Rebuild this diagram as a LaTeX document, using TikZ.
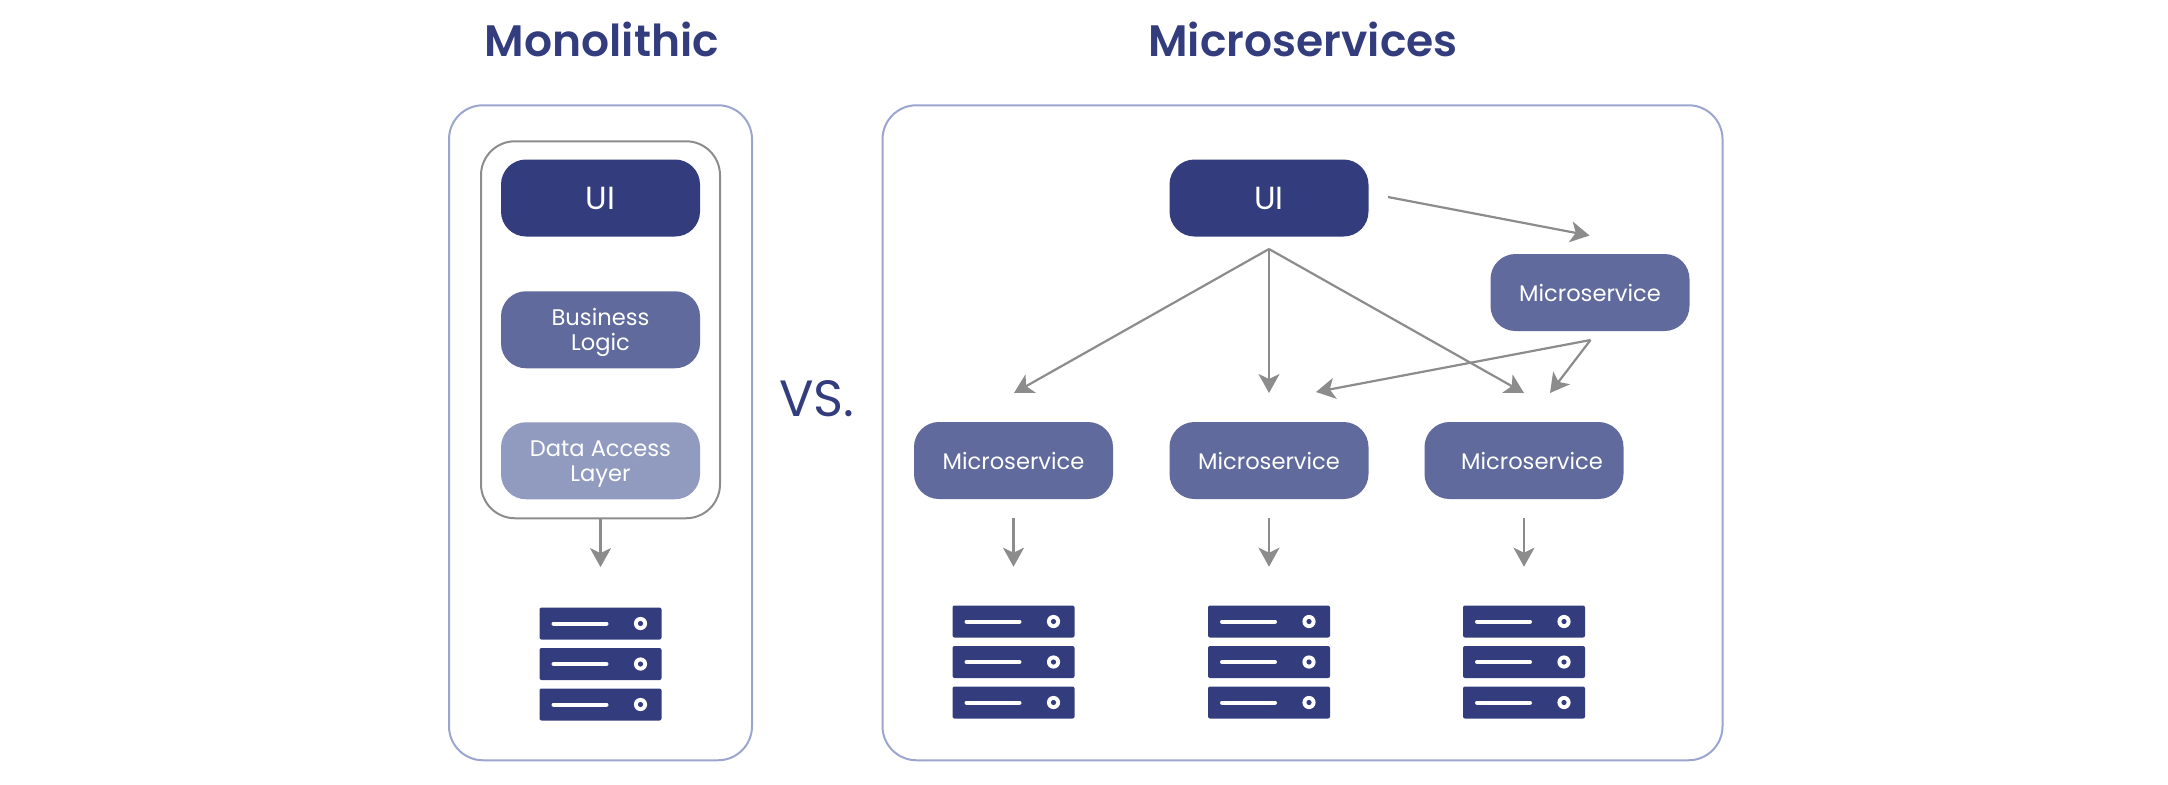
\documentclass[tikz,border=0pt]{standalone}
\usepackage{fontspec}
\setmainfont{Poppins}[BoldFont={Poppins SemiBold}]
\usetikzlibrary{arrows.meta}
\definecolor{navy}{HTML}{333D7E}
\definecolor{midblue}{HTML}{606A9C}
\definecolor{paleblue}{HTML}{919BC0}
\definecolor{edgeblue}{HTML}{9BA5CE}
\definecolor{arrowgrey}{HTML}{8C8C8C}
\tikzset{
  panel/.style={draw=edgeblue,line width=1pt,rounded corners=17pt,inner sep=0pt},
  layer/.style={rounded corners=12.5pt,minimum width=99.5pt,minimum height=38.5pt,inner sep=0pt,
    align=center,text=white,font=\fontsize{11.3}{12.5}\selectfont},
  uilayer/.style={layer,fill=navy,font=\fontsize{16}{18}\selectfont},
  flow/.style={arrowgrey,line width=1.1pt,-{Stealth[length=9.5pt,width=10.5pt,inset=2.5pt]}},
  rack/.style={fill=navy,rounded corners=1pt,minimum width=61pt,minimum height=16pt,inner sep=0pt},
  heading/.style={text=navy,font=\fontsize{22}{26}\selectfont\bfseries}
}
\begin{document}
\begin{tikzpicture}[x=0.5pt,y=-0.5pt]
  \useasboundingbox (0,0) rectangle (2168,784);
  \node[heading] (titleMono) at (602,39) {Monolithic};
  \node[heading] (titleMicro) at (1303,39) {Microservices};
  \node[text=navy,font=\fontsize{25.5}{30}\selectfont] (versus) at (817,399) {VS.};
  % outer frames
  \node[panel,minimum width=151.5pt,minimum height=327.5pt] (frameMono) at (600.5,432.75) {};
  \node[panel,minimum width=420pt,minimum height=327.5pt] (frameMicro) at (1302.5,432.75) {};
  \node[draw=arrowgrey,line width=1pt,rounded corners=17pt,minimum width=119.5pt,minimum height=188.5pt,inner sep=0pt] (stack) at (600.5,329.75) {};
  % monolith layers
  \node[uilayer] (uiMono) at (600.5,198) {UI};
  \foreach \colour/\pos/\name/\txt in
{{midblue/(600.5,329.75)/logic/Business\\Logic},{paleblue/(600.5,460.75)/data/Data Access\\Layer}}
    \node[layer,fill=\colour] (\name) at \pos {\rule{0pt}{11.5pt}\txt};
  % microservices
  \node[uilayer] (uiMicro) at (1269,198) {UI};
  \foreach \pos/\name in {{(1590,292.5)/msTop},{(1013.5,460.5)/msLeft},{(1269,460.5)/msMid}}
    \node[layer,fill=midblue] (\name) at \pos {Microservice};
  \node[layer,fill=midblue,text width=99.5pt] (msRight) at (1524,460.5) {\hspace*{8pt}Microservice};
  % server racks
  \foreach \x/\y/\name in {600.5/623.5/srvMono,1013.5/621.5/srvLeft,1269/621.5/srvMid,1524/621.5/srvRight}
    \foreach \i in {0,1,2} {
      \node[rack] (\name\i) at (\x,\y+40.5*\i) {};
      \draw[white,line width=2pt,line cap=round] (\x-47,\y+40.5*\i) -- (\x+6,\y+40.5*\i);
      \fill[white] (\x+40,\y+40.5*\i) circle[radius=3.3pt];
      \fill[navy] (\x+40,\y+40.5*\i) circle[radius=1.3pt];
    }
  % free ends of the arrows
  \coordinate (fanUi) at (1269,249);
  \coordinate (fanTop) at (1590.5,340);
  \coordinate (uiOut) at (1388,197);
  \coordinate (tipTop) at (1589.5,235.5);
  \coordinate (tipLeft) at (1014,393);
  \coordinate (tipMid) at (1269,393);
  \coordinate (tipRight) at (1524,393);
  \coordinate (tipMidSide) at (1316,392);
  \coordinate (tipRightSide) at (1550,393);
  \foreach \src/\tgt in {uiOut/tipTop,fanUi/tipLeft,fanUi/tipMid,fanUi/tipRight,fanTop/tipMidSide,fanTop/tipRightSide}
    \draw[flow] (\src) -- (\tgt);
  \draw[flow,shorten >=20pt] (stack) -- (srvMono0);
  \foreach \src/\tgt in {msLeft/srvLeft0,msMid/srvMid0,msRight/srvRight0}
    \draw[flow,shorten <=9.3pt,shorten >=19.2pt] (\src) -- (\tgt);
\end{tikzpicture}
\end{document}
